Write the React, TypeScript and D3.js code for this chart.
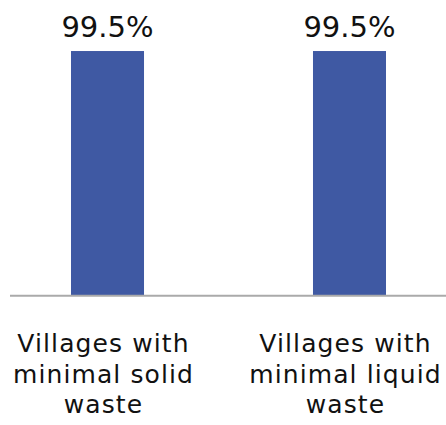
import React from "react";
import * as d3 from "d3";

const categories = ["Villages with minimal solid waste", "Villages with minimal liquid waste"];
const categoryLines = [
  ["Villages with", "minimal solid", "waste"],
  ["Villages with", "minimal liquid", "waste"],
];
const values = [99.5, 99.5];
const valueLabels = ["99.5%", "99.5%"];

const W = 446;
const H = 425;
const baseY = 295;

export default function App() {
  const x = d3
    .scaleBand<string>()
    .domain(categories)
    .range([-13.5, 470.5])
    .paddingInner(0.6983)
    .paddingOuter(0.3492);
  const y = d3.scaleLinear().domain([0, 100]).range([baseY, 49.8]);
  const font = "'DejaVu Sans', sans-serif";
  return (
    <svg width={W} height={H} style={{ position: "absolute", left: 0, top: 0 }}>
      <rect width={W} height={H} fill="#fff" />
      {categories.map((c, i) => {
        const bx = x(c)!;
        const cx = bx + x.bandwidth() / 2;
        return (
          <g key={c}>
            <rect x={bx} y={y(values[i])} width={x.bandwidth()} height={baseY - y(values[i])} fill="#3f59a3" />
            <text x={cx} y={37} textAnchor="middle" fontFamily={font} fontSize={29} fill="#111">
              {valueLabels[i]}
            </text>
            {categoryLines[i].map((l, j) => (
              <text
                key={j}
                x={cx - 4}
                y={352 + j * 30.5}
                textAnchor="middle"
                fontFamily={font}
                fontSize={25}
                letterSpacing={1.1}
                fill="#111"
              >
                {l}
              </text>
            ))}
          </g>
        );
      })}
      <line x1={10} x2={W} y1={baseY + 0.8} y2={baseY + 0.8} stroke="#aaa" strokeWidth={2} />
    </svg>
  );
}
